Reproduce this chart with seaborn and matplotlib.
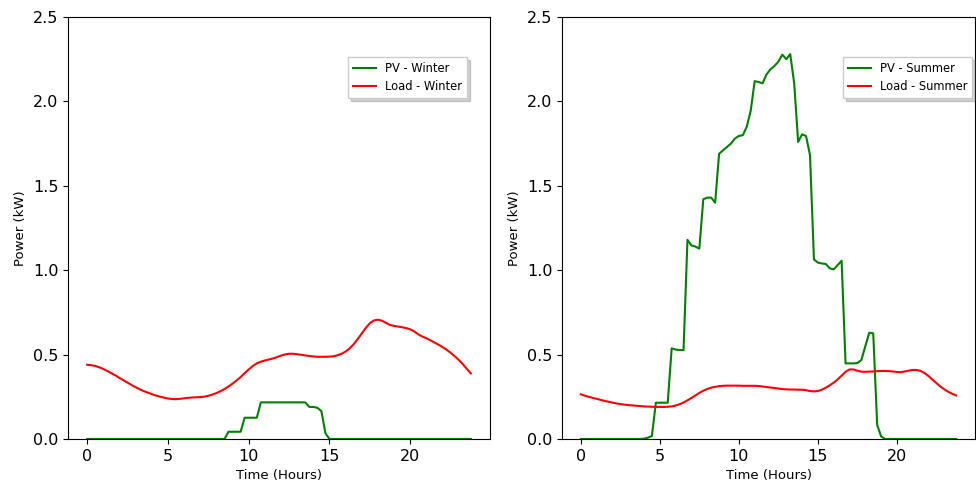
import numpy as np
import pandas as pd
import matplotlib
matplotlib.use("Agg")
import matplotlib.pyplot as plt
import seaborn as sns

# time axis: 15-minute steps over one day
hours = [i * 0.25 for i in range(96)]

pv_winter = [0.0] * 35 + [
    0.043, 0.043, 0.043, 0.043,            # 8.75 - 9.5
    0.126, 0.126, 0.126, 0.126,            # 9.75 - 10.5
    0.217, 0.217, 0.217, 0.217, 0.217, 0.217, 0.217, 0.217, 0.217, 0.217, 0.217, 0.217,  # 10.75 - 13.5
    0.190, 0.190, 0.185, 0.165, 0.034,     # 13.75 - 14.75
] + [0.0] * 36

load_winter = [
    0.440, 0.437, 0.433, 0.425, 0.415, 0.403, 0.390, 0.377,
    0.362, 0.348, 0.334, 0.320, 0.307, 0.295, 0.284, 0.275,
    0.266, 0.258, 0.251, 0.245, 0.240, 0.237, 0.236, 0.238,
    0.241, 0.244, 0.246, 0.247, 0.248, 0.251, 0.256, 0.263,
    0.272, 0.283, 0.296, 0.311, 0.328, 0.347, 0.367, 0.390,
    0.412, 0.432, 0.448, 0.458, 0.465, 0.471, 0.477, 0.485,
    0.494, 0.501, 0.505, 0.505, 0.502, 0.499, 0.495, 0.492,
    0.489, 0.487, 0.487, 0.487, 0.488, 0.490, 0.496, 0.505,
    0.518, 0.537, 0.562, 0.592, 0.625, 0.658, 0.686, 0.702,
    0.707, 0.701, 0.688, 0.676, 0.670, 0.666, 0.662, 0.657,
    0.650, 0.637, 0.620, 0.607, 0.597, 0.585, 0.572, 0.559,
    0.545, 0.529, 0.511, 0.491, 0.469, 0.444, 0.416, 0.389,
]

pv_summer = [0.0] * 16 + [
    0.002, 0.008, 0.018,                    # 4.0 - 4.5
    0.215, 0.215, 0.215, 0.215,             # 4.75 - 5.5
    0.537, 0.530, 0.527, 0.527,             # 5.75 - 6.5
    1.180, 1.147, 1.140, 1.128,             # 6.75 - 7.5
    1.420, 1.430, 1.430, 1.400,             # 7.75 - 8.5
    1.690, 1.710, 1.730, 1.750, 1.780, 1.795, 1.800,  # 8.75 - 10.25
    1.850, 1.945, 2.120, 2.115, 2.107, 2.160, 2.190, 2.210, 2.235,  # 10.5 - 12.5
    2.277, 2.250, 2.280, 2.107, 1.760, 1.805, 1.795, 1.682,         # 12.75 - 14.5
    1.064, 1.045, 1.040, 1.037, 1.011, 1.005, 1.030, 1.056,         # 14.75 - 16.5
    0.448, 0.448, 0.448, 0.450, 0.468, 0.550, 0.630, 0.626,         # 16.75 - 18.5
    0.083, 0.015,                                                   # 18.75 - 19.0
] + [0.0] * 19

load_summer = [
    0.265, 0.257, 0.250, 0.244, 0.238, 0.232, 0.226, 0.221,
    0.216, 0.211, 0.207, 0.204, 0.201, 0.199, 0.197, 0.195,
    0.193, 0.192, 0.191, 0.190, 0.190, 0.190, 0.191, 0.193,
    0.198, 0.206, 0.216, 0.229, 0.243, 0.258, 0.273, 0.286,
    0.296, 0.304, 0.309, 0.313, 0.315, 0.316, 0.316, 0.316,
    0.316, 0.315, 0.315, 0.315, 0.315, 0.314, 0.311, 0.308,
    0.305, 0.302, 0.299, 0.296, 0.294, 0.293, 0.293, 0.292,
    0.292, 0.289, 0.284, 0.282, 0.284, 0.292, 0.304, 0.318,
    0.334, 0.353, 0.375, 0.398, 0.412, 0.412, 0.404, 0.399,
    0.398, 0.399, 0.400, 0.402, 0.403, 0.403, 0.402, 0.400,
    0.397, 0.396, 0.400, 0.405, 0.409, 0.409, 0.403, 0.391,
    0.373, 0.352, 0.331, 0.311, 0.294, 0.280, 0.268, 0.258,
]

season_labels = ["Winter", "Summer"]
y_ticks = [0.0, 0.5, 1.0, 1.5, 2.0, 2.5]

df = pd.DataFrame({
    "hours": hours,
    "pv_winter": pv_winter,
    "load_winter": load_winter,
    "pv_summer": pv_summer,
    "load_summer": load_summer,
})

W, H = 976, 490
fig = plt.figure(figsize=(W / 100, H / 100), dpi=100)
ax1 = fig.add_axes([68 / W, 51 / H, 422 / W, 422 / H])
ax2 = fig.add_axes([562 / W, 51 / H, 413 / W, 422 / H])

panels = [
    (ax1, "pv_winter", "load_winter", season_labels[0], (0.945, 0.905)),
    (ax2, "pv_summer", "load_summer", season_labels[1], (0.993, 0.905)),
]

for ax, pv_col, load_col, season, anchor in panels:
    sns.lineplot(data=df, x="hours", y=pv_col, ax=ax, color="green",
                 linewidth=1.5, label=f"PV - {season}")
    sns.lineplot(data=df, x="hours", y=load_col, ax=ax, color="red",
                 linewidth=1.5, label=f"Load - {season}")
    ax.set_ylim(0, 2.5)
    ax.set_yticks(y_ticks)
    ax.set_xticks([0, 5, 10, 15, 20])
    ax.tick_params(labelsize=11.5)
    ax.set_xlabel("Time (Hours)", fontsize=9.5)
    ax.set_ylabel("Power (kW)", fontsize=9.5)
    ax.legend(loc="upper right", bbox_to_anchor=anchor, borderaxespad=0,
              fontsize=8.3, shadow={"alpha": 0.25}, fancybox=False,
              edgecolor="0.8", framealpha=1)

fig.savefig("out.png", dpi=100)
